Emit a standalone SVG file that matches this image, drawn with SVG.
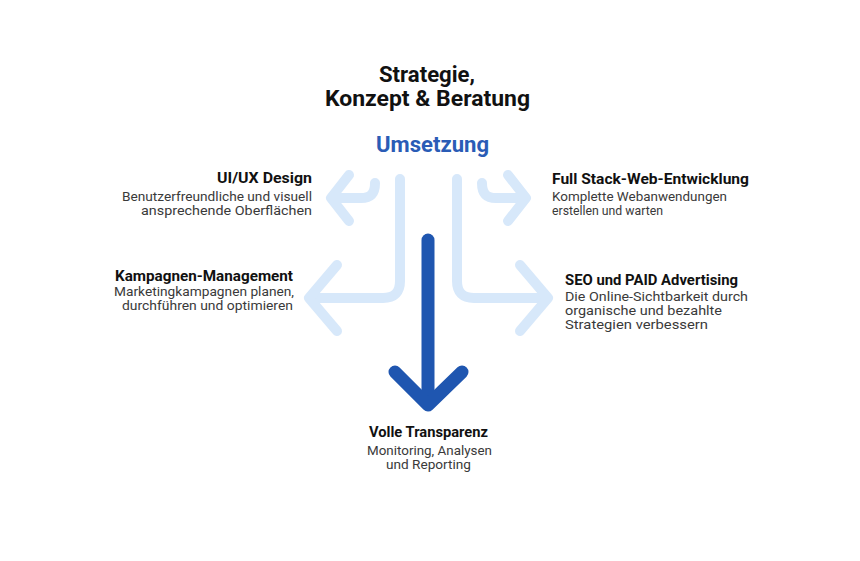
<svg xmlns="http://www.w3.org/2000/svg" width="860" height="561" viewBox="0 0 860 561">
<style>
text{font-family:Roboto,"Liberation Sans",sans-serif}
.h{font-size:22px;font-weight:700;fill:#111;text-anchor:middle}
.u{font-size:22px;font-weight:700;fill:#2a5cb6;text-anchor:middle}
.t{font-size:15px;font-weight:700;fill:#111}
.d{font-size:13px;font-weight:400;fill:#3a3a3a}
.l{text-anchor:end}
.c{text-anchor:middle}
.lt{fill:none;stroke:#d7e8fa;stroke-width:10;stroke-linecap:round;stroke-linejoin:round}
.dk{fill:none;stroke:#1f56b0;stroke-width:13;stroke-linecap:round;stroke-linejoin:round}
</style>
<rect width="860" height="561" fill="#fff"/>
<g id="connectors">
<g id="left-arrows">
<path class="lt" d="M375,183 C375,193 371,198 361,198 L332,198"/>
<path class="lt" d="M349,175 L331,198 L349,221"/>
<path class="lt" d="M400,179 L400,281 Q400,298 383,298 L310,298"/>
<path class="lt" d="M337,265 L309,298 L337,331"/>
</g>
<g id="right-arrows" transform="translate(857,0) scale(-1,1)">
<path class="lt" d="M375,183 C375,193 371,198 361,198 L332,198"/>
<path class="lt" d="M349,175 L331,198 L349,221"/>
<path class="lt" d="M400,179 L400,281 Q400,298 383,298 L310,298"/>
<path class="lt" d="M337,265 L309,298 L337,331"/>
</g>
<g id="main-arrow">
<path class="dk" d="M428,240 L428,404"/>
<path class="dk" d="M395,372 L428,405 L462,372"/>
</g>
</g>
<g id="strategie">
<text class="h" x="427" y="82" textLength="96" lengthAdjust="spacingAndGlyphs">Strategie,</text>
<text class="h" x="427.5" y="106" textLength="205" lengthAdjust="spacingAndGlyphs">Konzept &amp; Beratung</text>
</g>
<g id="umsetzung">
<text class="u" x="432.5" y="152" textLength="113" lengthAdjust="spacingAndGlyphs">Umsetzung</text>
</g>
<g id="uiux">
<text class="t l" x="312" y="183" textLength="95" lengthAdjust="spacingAndGlyphs">UI/UX Design</text>
<text class="d l" x="312" y="201" textLength="190" lengthAdjust="spacingAndGlyphs">Benutzerfreundliche und visuell</text>
<text class="d l" x="312" y="215" textLength="171" lengthAdjust="spacingAndGlyphs">ansprechende Oberflächen</text>
</g>
<g id="kampagnen">
<text class="t l" x="293" y="281" textLength="178" lengthAdjust="spacingAndGlyphs">Kampagnen-Management</text>
<text class="d l" x="294" y="296" textLength="180" lengthAdjust="spacingAndGlyphs">Marketingkampagnen planen,</text>
<text class="d l" x="293" y="310" textLength="171" lengthAdjust="spacingAndGlyphs">durchführen und optimieren</text>
</g>
<g id="fullstack">
<text class="t" x="552" y="184" textLength="197" lengthAdjust="spacingAndGlyphs">Full Stack-Web-Entwicklung</text>
<text class="d" x="552" y="201" textLength="175" lengthAdjust="spacingAndGlyphs">Komplette Webanwendungen</text>
<text class="d" x="552" y="215" textLength="111" lengthAdjust="spacingAndGlyphs">erstellen und warten</text>
</g>
<g id="seo">
<text class="t" x="565" y="285" textLength="173" lengthAdjust="spacingAndGlyphs">SEO und PAID Advertising</text>
<text class="d" x="565" y="301" textLength="183" lengthAdjust="spacingAndGlyphs">Die Online-Sichtbarkeit durch</text>
<text class="d" x="565" y="315" textLength="157" lengthAdjust="spacingAndGlyphs">organische und bezahlte</text>
<text class="d" x="565" y="329" textLength="143" lengthAdjust="spacingAndGlyphs">Strategien verbessern</text>
</g>
<g id="transparenz">
<text class="t c" x="428.5" y="437" textLength="119" lengthAdjust="spacingAndGlyphs">Volle Transparenz</text>
<text class="d c" x="429.5" y="455" textLength="125" lengthAdjust="spacingAndGlyphs">Monitoring, Analysen</text>
<text class="d c" x="428.5" y="469" textLength="85" lengthAdjust="spacingAndGlyphs">und Reporting</text>
</g>
</svg>
